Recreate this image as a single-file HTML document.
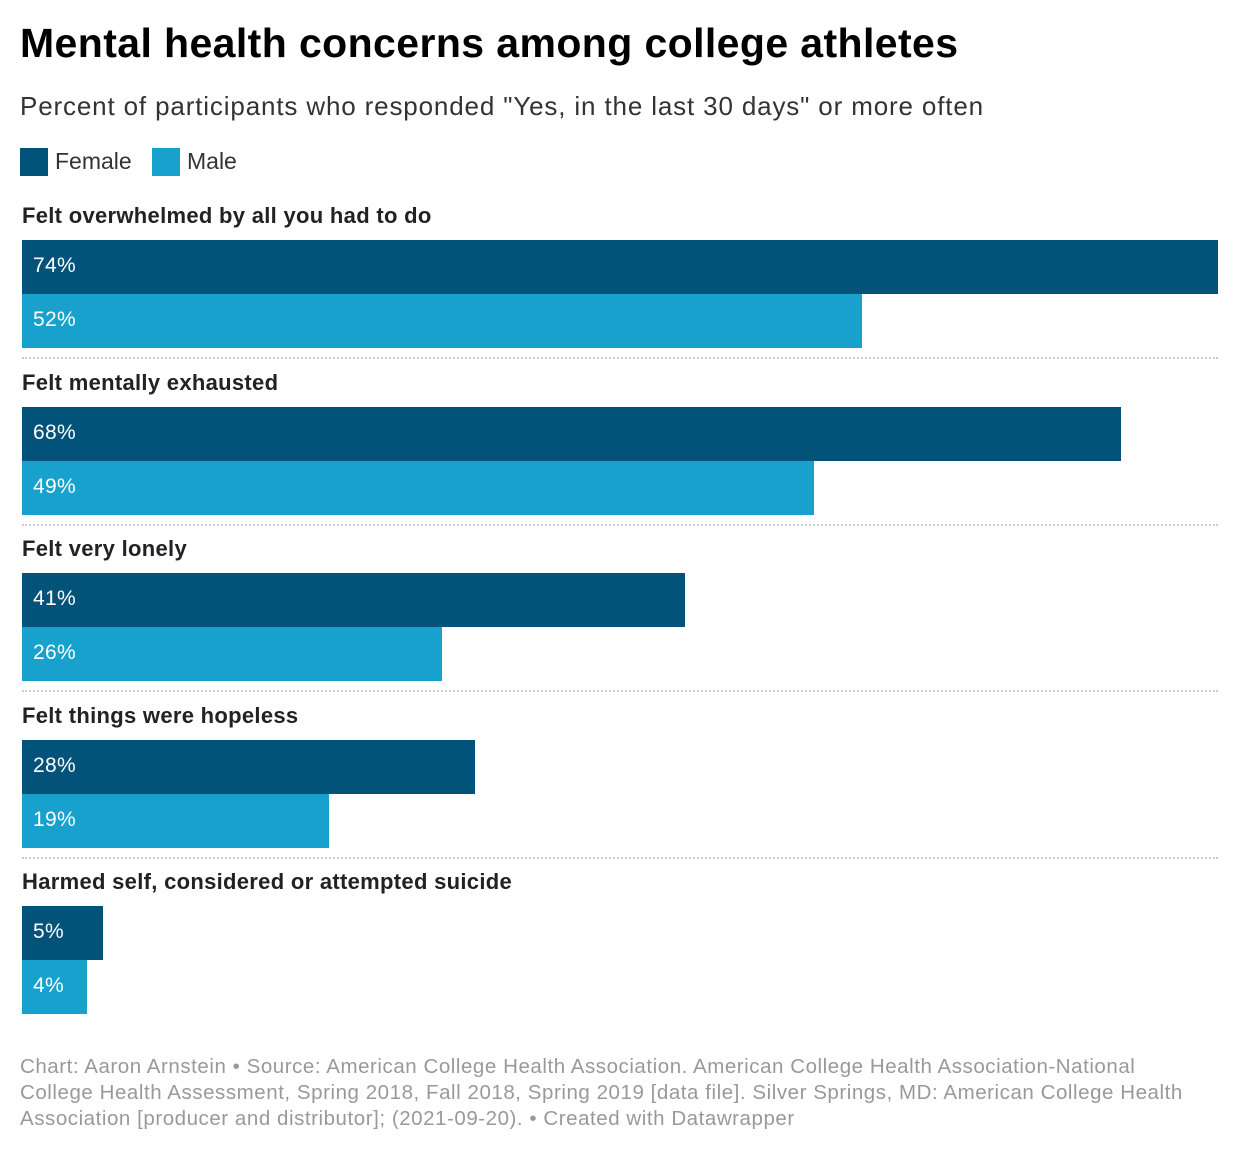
<!DOCTYPE html>
<html><head><meta charset="utf-8">
<style>
body{margin:0;background:#fff;font-family:"Liberation Sans",Arial,sans-serif;}
#wrap{position:relative;width:1240px;height:1154px;overflow:hidden;}
.t{position:absolute;white-space:nowrap;}
</style></head>
<body>
<div id="wrap">
<div class="t" style="left:20px;top:20px;font-size:41px;font-weight:bold;color:#000;letter-spacing:0.4px">Mental health concerns among college athletes</div>
<div class="t" style="left:20px;top:91px;font-size:26px;color:#333;letter-spacing:0.85px">Percent of participants who responded "Yes, in the last 30 days" or more often</div>
<div>
<div class="t" style="left:20px;top:148px;width:28px;height:28px;background:#03527a"></div>
<div class="t" style="left:55px;top:148px;font-size:23px;color:#333">Female</div></div>
<div>
<div class="t" style="left:152px;top:148px;width:28px;height:28px;background:#18a1cd"></div>
<div class="t" style="left:187px;top:148px;font-size:23px;color:#333">Male</div></div>
<div id="plot"></div>
<div class="t" style="left:20px;top:1054px;font-size:20.5px;line-height:26px;color:#999;letter-spacing:0.55px">Chart: Aaron Arnstein • Source: American College Health Association. American College Health Association-National<br>College Health Assessment, Spring 2018, Fall 2018, Spring 2019 [data file]. Silver Springs, MD: American College Health<br>Association [producer and distributor]; (2021-09-20). • Created with Datawrapper</div>
</div>
<script>
const categories=["Felt overwhelmed by all you had to do","Felt mentally exhausted","Felt very lonely","Felt things were hopeless","Harmed self, considered or attempted suicide"];
const femaleValues=[74,68,41,28,5];
const maleValues=[52,49,26,19,4];
const plot=document.getElementById('plot');
const x0=22,xMax=1218,vMax=74;
function xs(v){return v/vMax*(xMax-x0);}
function groupTop(i){return 240+i*166.5;}
function mk(tag,style,text){const e=document.createElement(tag);e.className='t';e.style.cssText=style;if(text!==undefined)e.textContent=text;plot.appendChild(e);return e;}
categories.forEach((c,i)=>{
  const y=groupTop(i);
  const lab=mk('div',`left:22px;top:${y-37}px;font-size:22px;font-weight:bold;color:#222;letter-spacing:0.3px`,c);
  
  
  [[femaleValues[i],'#03527a'],[maleValues[i],'#18a1cd']].forEach((s,j)=>{
    const b=mk('div',`left:${x0}px;top:${y+j*54}px;width:${xs(s[0])}px;height:54px;background:${s[1]}`);
    
    
    const v=mk('div',`left:${x0+11}px;top:${y+j*54+14}px;font-size:21px;color:#fff;letter-spacing:0.3px`,s[0]+'%');
    
    
  });
  if(i<categories.length-1){
    const sep=mk('div',`left:22px;top:${y+117}px;width:1196px;height:0;border-top:2px dotted #ccc`);
    
    
  }
});
</script>
</body></html>
